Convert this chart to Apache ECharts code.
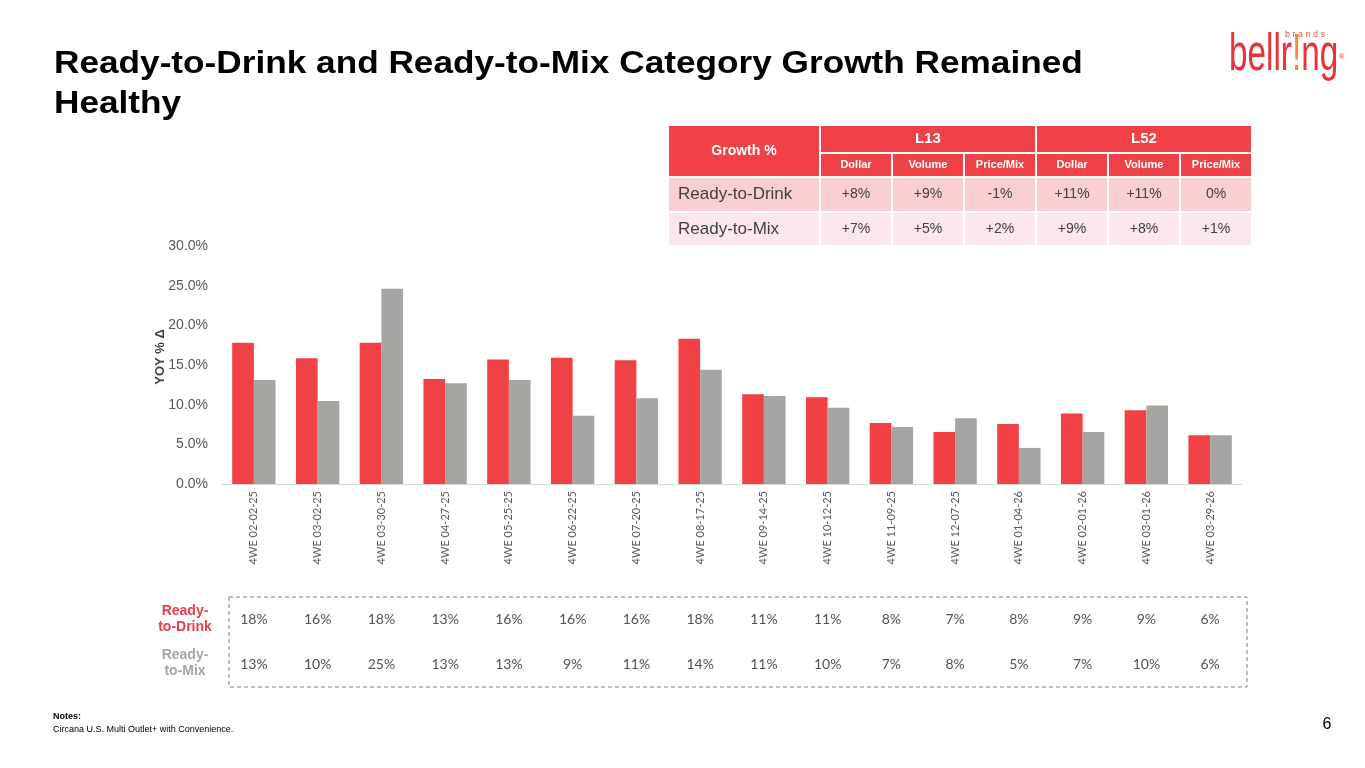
<!DOCTYPE html>
<html>

<head>
  <title>Category Growth</title>
  <script src="https://cdn.jsdelivr.net/npm/echarts@6/dist/echarts.min.js"></script>
  <style>
    html, body { margin: 0; padding: 0; background: #fff; }
    #main { width: 1365px; height: 768px; }
  </style>
</head>

<body>
  <div id="main"></div>
  <script>
    // 4-week periods on the x axis
    var periods = ['4WE 02-02-25', '4WE 03-02-25', '4WE 03-30-25', '4WE 04-27-25', '4WE 05-25-25', '4WE 06-22-25',
      '4WE 07-20-25', '4WE 08-17-25', '4WE 09-14-25', '4WE 10-12-25', '4WE 11-09-25', '4WE 12-07-25',
      '4WE 01-04-26', '4WE 02-01-26', '4WE 03-01-26', '4WE 03-29-26'];
    // YOY % change
    var readyToDrink = [17.8, 15.85, 17.8, 13.25, 15.7, 15.9, 15.6, 18.3, 11.3, 10.95, 7.7, 6.55, 7.55, 8.9, 9.3, 6.15];
    var readyToMix = [13.1, 10.45, 24.6, 12.7, 13.1, 8.6, 10.8, 14.4, 11.1, 9.6, 7.2, 8.3, 4.55, 6.55, 9.9, 6.15];
    var yMin = 0, yMax = 30, yStep = 5;

    // growth table, top right
    var tableGroups = ['L13', 'L52'];
    var tableCols = ['Dollar', 'Volume', 'Price/Mix', 'Dollar', 'Volume', 'Price/Mix'];
    var tableRows = ['Ready-to-Drink', 'Ready-to-Mix'];
    var tableDrink = ['+8%', '+9%', '-1%', '+11%', '+11%', '0%'];
    var tableMix = ['+7%', '+5%', '+2%', '+9%', '+8%', '+1%'];

    var colors = { drink: '#ef4146', mix: '#a6a5a1', head: '#ef4146', row1: '#f9cfd2', row2: '#fce7e9' };
    var sans = '"Liberation Sans", Arial, sans-serif';
    var body = 'Lato, Carlito, sans-serif';

    var myChart = echarts.init(document.getElementById('main'));

    // bottom value rows (rounded)
    var rowData = [];
    readyToDrink.forEach(function (v, i) { rowData.push([i, 0, Math.round(v)]); });
    readyToMix.forEach(function (v, i) { rowData.push([i, 1, Math.round(v)]); });

    // table graphic
    function buildTable() {
      var x0 = 668, firstW = 152, colW = 72;
      var ys = [125, 153, 177, 212, 246];
      var els = [];
      function cell(x, y, w, h, fill, text, style) {
        els.push({
          type: 'rect', shape: { x: x, y: y, width: w, height: h },
          style: { fill: fill, stroke: '#fff', lineWidth: 2 }, silent: true
        });
        els.push({
          type: 'text', x: x + w / 2, y: y + h / 2,
          style: Object.assign({ text: text, align: 'center', verticalAlign: 'middle', fontFamily: sans }, style),
          silent: true
        });
      }
      var headTxt = { fill: '#fff', fontWeight: 'bold' };
      cell(x0, ys[0], firstW, ys[2] - ys[0], colors.head, 'Growth %', Object.assign({ fontSize: 14 }, headTxt));
      tableGroups.forEach(function (g, gi) {
        cell(x0 + firstW + gi * 3 * colW, ys[0], colW * 3, ys[1] - ys[0], colors.head, g, Object.assign({ fontSize: 15 }, headTxt));
      });
      tableCols.forEach(function (c, ci) {
        cell(x0 + firstW + ci * colW, ys[1], colW, ys[2] - ys[1], colors.head, c, Object.assign({ fontSize: 11 }, headTxt));
      });
      [tableDrink, tableMix].forEach(function (vals, ri) {
        var fill = ri === 0 ? colors.row1 : colors.row2;
        var y = ys[2 + ri], h = ys[3 + ri] - ys[2 + ri];
        els.push({
          type: 'rect', shape: { x: x0, y: y, width: firstW, height: h },
          style: { fill: fill, stroke: '#fff', lineWidth: 2 }, silent: true
        });
        els.push({
          type: 'text', x: x0 + 10, y: y + h / 2,
          style: { text: tableRows[ri], align: 'left', verticalAlign: 'middle', fontSize: 17, fill: '#404040', fontFamily: sans },
          silent: true
        });
        vals.forEach(function (v, ci) {
          cell(x0 + firstW + ci * colW, y, colW, h, fill, v, { fontSize: 14, fill: '#404040' });
        });
      });
      return els;
    }

    var option = {
      animation: false,
      backgroundColor: '#fff',
      grid: [
        { left: 222, right: 123, top: 246, bottom: 284 },
        { left: 222, right: 123, top: 597, height: 90 }
      ],
      xAxis: [
        {
          type: 'category', gridIndex: 0, data: periods,
          axisLine: { lineStyle: { color: '#d9d9d9' } },
          axisTick: { show: false },
          axisLabel: { rotate: 90, margin: 7, fontSize: 11, color: '#595959', fontFamily: body }
        },
        { type: 'category', gridIndex: 1, data: periods, show: false }
      ],
      yAxis: [
        {
          type: 'value', gridIndex: 0, min: yMin, max: yMax, interval: yStep,
          name: 'YOY % Δ', nameLocation: 'middle', nameGap: 55, nameRotate: 90, nameMoveOverlap: false,
          nameTextStyle: { fontFamily: sans, fontSize: 13, fontWeight: 'bold', color: '#404040', padding: [0, 0, 0, 16] },
          axisLine: { show: false }, axisTick: { show: false }, splitLine: { show: false },
          axisLabel: {
            margin: 14, fontSize: 14, color: '#595959', fontFamily: sans,
            formatter: function (v) { return v.toFixed(1) + '%'; }
          }
        },
        { type: 'category', gridIndex: 1, data: ['Ready-to-Drink', 'Ready-to-Mix'], inverse: true, show: false }
      ],
      series: [
        {
          name: 'Ready-to-Drink', type: 'bar', xAxisIndex: 0, yAxisIndex: 0,
          data: readyToDrink, barGap: '0%', barCategoryGap: '32%',
          itemStyle: { color: colors.drink }
        },
        {
          name: 'Ready-to-Mix', type: 'bar', xAxisIndex: 0, yAxisIndex: 0,
          data: readyToMix, barGap: '0%', barCategoryGap: '32%',
          itemStyle: { color: colors.mix }
        },
        {
          name: 'values', type: 'scatter', xAxisIndex: 1, yAxisIndex: 1,
          data: rowData, symbolSize: 1, itemStyle: { color: 'rgba(0,0,0,0)' },
          label: {
            show: true, position: 'inside', fontSize: 14, color: '#262626', fontFamily: body,
            formatter: function (p) { return p.value[2] + '%'; }
          }
        }
      ],
      graphic: [
        // slide title
        {
          type: 'text', x: 54, y: 44, scaleX: 1.1,
          style: {
            text: 'Ready-to-Drink and Ready-to-Mix Category Growth Remained\nHealthy',
            fontSize: 32, lineHeight: 40, fontWeight: 'bold', fill: '#000', fontFamily: sans
          }
        },
        {
          type: 'rect', shape: { x: 229, y: 597, width: 1018, height: 90 },
          style: { fill: 'none', stroke: '#7f7f7f', lineWidth: 1, lineDash: [4, 3] }, silent: true
        },
        {
          type: 'text', x: 185, y: 619,
          style: { text: 'Ready-\nto-Drink', align: 'center', verticalAlign: 'middle', fontSize: 14, lineHeight: 16, fontWeight: 'bold', fill: '#e8404a', fontFamily: sans }
        },
        {
          type: 'text', x: 185, y: 663,
          style: { text: 'Ready-\nto-Mix', align: 'center', verticalAlign: 'middle', fontSize: 14, lineHeight: 16, fontWeight: 'bold', fill: '#a6a6a6', fontFamily: sans }
        },
        {
          type: 'text', x: 53, y: 712,
          style: { text: 'Notes:', fontSize: 9, fontWeight: 'bold', fill: '#000', fontFamily: sans }
        },
        {
          type: 'text', x: 53, y: 725,
          style: { text: 'Circana U.S. Multi Outlet+ with Convenience.', fontSize: 9, fill: '#000', fontFamily: sans }
        },
        {
          type: 'text', x: 1327, y: 725,
          style: { text: '6', fontSize: 16, fill: '#000', align: 'center', verticalAlign: 'middle', fontFamily: sans }
        },
        // logo
        {
          type: 'text', x: 1229, y: 30, scaleX: 0.64,
          style: {
            text: '{r|bellr}{o|!}{r|ng}',
            rich: {
              r: { fontSize: 52, fontFamily: sans, fill: '#e8323c' },
              o: { fontSize: 52, fontFamily: sans, fill: '#f08a3c' }
            }
          }
        },
        {
          type: 'text', x: 1285, y: 30,
          style: { text: 'b r a n d s', fontSize: 9, fill: '#e8603c', fontFamily: sans }
        },
        {
          type: 'text', x: 1339, y: 54,
          style: { text: '®', fontSize: 7, fill: '#e8323c', fontFamily: sans }
        },
        { type: 'group', children: buildTable() }
      ]
    };
    myChart.setOption(option);
  </script>
</body>

</html>
